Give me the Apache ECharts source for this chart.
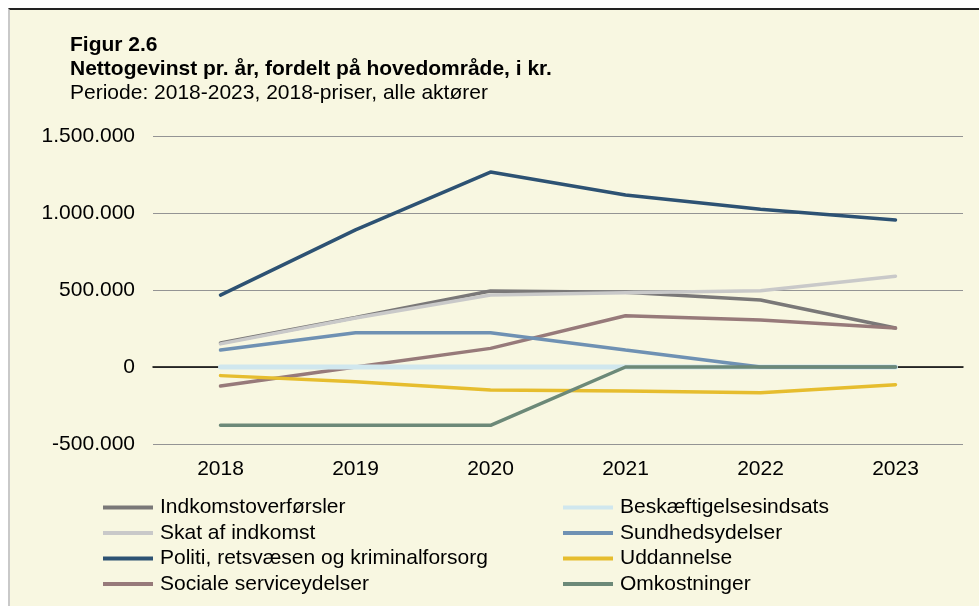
<!DOCTYPE html>
<html>
<head>
<meta charset="utf-8">
<script src="https://cdn.jsdelivr.net/npm/echarts@6/dist/echarts.min.js"></script>
<style>
  html, body { margin: 0; padding: 0; background: #fff; }
  #frame {
    position: absolute; left: 8px; top: 8px; right: 0; bottom: 0;
    background: #f8f7e1;
    border-top: 2px solid #222;
    border-left: 2px solid #c9c9c9;
  }
  #chart { position: absolute; left: 0; top: 0; width: 979px; height: 606px; }
</style>
</head>
<body>
<div id="frame"></div>
<div id="chart"></div>
<script>
// kategorier (år)
const years = ['2018', '2019', '2020', '2021', '2022', '2023']

// nettogevinst pr. hovedområde, kr.
const indkomstoverforsler = [156000, 322000, 493000, 485000, 435000, 253000]
const skatAfIndkomst = [150000, 318000, 467000, 482000, 495000, 589000]
const politi = [467000, 890000, 1266000, 1117000, 1024000, 955000]
const socialeServiceydelser = [-123000, 0, 121000, 333000, 305000, 253000]
const beskaeftigelsesindsats = [0, 0, 0, 0, 0, 0]
const sundhedsydelser = [110000, 223000, 223000, 110000, 0, 0]
const uddannelse = [-56000, -95000, -149000, -156000, -167000, -115000]
const omkostninger = [-379000, -379000, -379000, 0, 0, 0]

const yTicks = { min: -500000, max: 1500000, interval: 500000 }

const FONT = '"Liberation Sans", Arial, sans-serif'

// tusindtalsseparator med punktum
function fmt(v) {
  const s = String(Math.abs(v)).replace(/\B(?=(\d{3})+(?!\d))/g, '.')
  return (v < 0 ? '-' : '') + s
}

function line(name, data, color, width) {
  return {
    name, type: 'line', data,
    symbol: 'none',
    lineStyle: { color, width: width || 3.5, cap: 'round' },
    itemStyle: { color },
    emphasis: { disabled: true }
  }
}

const series = [
  line('Indkomstoverførsler', indkomstoverforsler, '#7a7878'),
  line('Skat af indkomst', skatAfIndkomst, '#c9c9c9'),
  line('Politi, retsvæsen og kriminalforsorg', politi, '#2d5273'),
  line('Sociale serviceydelser', socialeServiceydelser, '#977a7a'),
  line('Beskæftigelsesindsats', beskaeftigelsesindsats, '#d0e7ee', 5),
  line('Sundhedsydelser', sundhedsydelser, '#6f91b3'),
  line('Uddannelse', uddannelse, '#e6bd2e'),
  line('Omkostninger', omkostninger, '#6c8978')
]

const legendBase = {
  orient: 'vertical',
  top: 497,
  itemWidth: 50,
  itemHeight: 4,
  itemGap: 4.5,
  icon: 'rect',
  padding: 0,
  textStyle: { fontFamily: FONT, fontSize: 21, color: '#000', padding: [0, 0, 0, 2] }
}

const chart = echarts.init(document.getElementById('chart'))
chart.setOption({
  backgroundColor: 'transparent',
  animation: false,
  title: {
    text: 'Figur 2.6\nNettogevinst pr. år, fordelt på hovedområde, i kr.',
    subtext: 'Periode: 2018-2023, 2018-priser, alle aktører',
    left: 70,
    top: 33,
    padding: 0,
    itemGap: 0,
    textStyle: { fontFamily: FONT, fontSize: 21, fontWeight: 'bold', color: '#000', lineHeight: 24 },
    subtextStyle: { fontFamily: FONT, fontSize: 21, color: '#000', lineHeight: 24 }
  },
  legend: [
    Object.assign({}, legendBase, {
      left: 103,
      data: ['Indkomstoverførsler', 'Skat af indkomst', 'Politi, retsvæsen og kriminalforsorg', 'Sociale serviceydelser']
    }),
    Object.assign({}, legendBase, {
      left: 563,
      data: ['Beskæftigelsesindsats', 'Sundhedsydelser', 'Uddannelse', 'Omkostninger']
    })
  ],
  grid: { left: 153, right: 16, top: 136, bottom: 162 },
  xAxis: {
    type: 'category',
    data: years,
    boundaryGap: true,
    axisLine: { onZero: true, lineStyle: { color: '#000', width: 1.5 } },
    axisTick: { show: false },
    axisLabel: { fontFamily: FONT, fontSize: 21, color: '#000', margin: 15 },
    position: 'bottom'
  },
  yAxis: {
    type: 'value',
    min: yTicks.min,
    max: yTicks.max,
    interval: yTicks.interval,
    axisLine: { show: false },
    axisTick: { show: false },
    splitLine: { lineStyle: { color: '#949494', width: 1.2 } },
    axisLabel: { fontFamily: FONT, fontSize: 21, color: '#000', margin: 18, formatter: fmt }
  },
  series
})
</script>
</body>
</html>
